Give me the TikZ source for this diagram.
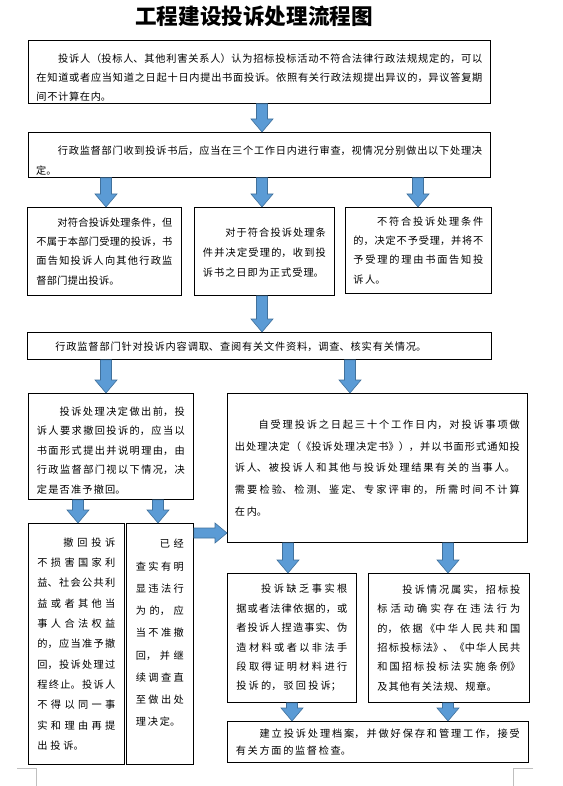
\documentclass[tikz,border=0pt]{standalone}
\usepackage{fontspec}
\setmainfont{Noto Sans CJK SC}
\usetikzlibrary{calc}
\XeTeXlinebreaklocale "zh"
\definecolor{arrfill}{HTML}{5B9BD5}
\definecolor{arrline}{HTML}{41719C}
\newcommand\cjset[2]{\fontsize{10.2pt}{#1pt}\selectfont\parindent=0pt\relax\XeTeXlinebreakskip=#2pt plus 4pt minus #2pt\relax}
\newcommand\ind[1]{\hspace*{#1pt}}
\newcommand\varrow[2]{\path[barrow] let \p1=#1, \p2=#2 in (\x1-5.5,\y1) -- (\x1+5.5,\y1) -- (\x1+5.5,\y2+13) -- (\x1+11,\y2+13) -- (\x1,\y2) -- (\x1-11,\y2+13) -- (\x1-5.5,\y2+13) -- cycle;}
\newcommand\harrow[2]{\path[barrow] let \p1=#1, \p2=#2 in (\x1,\y1+5) -- (\x2-12,\y1+5) -- (\x2-12,\y1+10) -- (\x2,\y1) -- (\x2-12,\y1-10) -- (\x2-12,\y1-5) -- (\x1,\y1-5) -- cycle;}
\begin{document}
\begin{tikzpicture}[x=1pt,y=-1pt,
  box/.style={draw=black, line width=0.8pt, anchor=north west, inner sep=0pt, align=justify},
  barrow/.style={fill=arrfill, draw=arrline, line width=0.6pt},
  cornermark/.style={draw=black!25, line width=0.6pt}]
\fill[white] (0,0) rectangle (562,786);
\useasboundingbox (0,0) rectangle (562,786);

\node[font=\fontsize{21.6pt}{26pt}\selectfont\bfseries] (title) at (254,16) {工程建设投诉处理流程图};

\node[box, minimum width=462pt, minimum height=63pt, text width=446pt, font=\cjset{19}{0.68}] (b1) at (28,40) {\ind{21.8}投诉人（投标人、其他利害关系人）认为招标投标活动不符合法律行政法规规定的，可以\linebreak 在知道或者应当知道之日起十日内提出书面投诉。依照有关行政法规提出异议的，异议答复期\linebreak 间不计算在内。\par\kern-11pt};

\node[box, minimum width=462.5pt, minimum height=45pt, text width=446pt, font=\cjset{20}{0.68}] (b2) at (27.5,132) {\ind{21.8}行政监督部门收到投诉书后，应当在三个工作日内进行审查，视情况分别做出以下处理决\linebreak 定。\par\kern-12pt};

\node[box, minimum width=154pt, minimum height=88pt, text width=136pt, font=\cjset{19.3}{0.26}] (b3a) at (27,207) {\ind{20.9}对符合投诉处理条件，但\linebreak 不属于本部门受理的投诉，书\linebreak 面告知投诉人向其他行政监\linebreak 督部门提出投诉。};

\node[box, minimum width=140pt, minimum height=88pt, text width=123pt, font=\cjset{20}{0.98}] (b3b) at (194,207) {\ind{22.4}对于符合投诉处理条\linebreak 件并决定受理的，收到投\linebreak 诉书之日即为正式受理。\par\kern-3pt};

\node[box, minimum width=146pt, minimum height=86pt, text width=130pt, font=\cjset{19.3}{1.6}] (b3c) at (345,207) {\ind{23.6}不符合投诉处理条件\linebreak 的，决定不予受理，并将不\linebreak 予受理的理由书面告知投\linebreak 诉人。};

\node[box, minimum width=464pt, minimum height=27pt, text width=446pt, font=\cjset{19}{0.83}] (b4) at (27,332) {\ind{19}行政监督部门针对投诉内容调取、查阅有关文件资料，调查、核实有关情况。\par\kern-3pt};

\node[box, minimum width=165pt, minimum height=106pt, text width=148pt, font=\cjset{19.5}{1.18}] (b5) at (28,393) {\ind{22.8}投诉处理决定做出前，投\linebreak 诉人要求撤回投诉的，应当以\linebreak 书面形式提出并说明理由，由\linebreak 行政监督部门视以下情况，决\linebreak 定是否准予撤回。\par\kern-8pt};

\node[box, minimum width=300pt, minimum height=149pt, text width=285pt, font=\cjset{21.75}{1.68}] (b6) at (227,393) {\ind{23.75}自受理投诉之日起三十个工作日内，对投诉事项做\linebreak 出处理决定（《投诉处理决定书》），并以书面形式通知投\linebreak 诉人、被投诉人和其他与投诉处理结果有关的当事人。\hfil\break 需要检验、检测、鉴定、专家评审的，所需时间不计算\linebreak 在内。};

\node[box, minimum width=96pt, minimum height=241pt, text width=78pt, font=\cjset{20.3}{2.8}] (b7a) at (28,523) {\ind{26}撤回投诉\linebreak 不损害国家利\linebreak 益、社会公共利\linebreak 益或者其他当\linebreak 事人合法权益\linebreak 的，应当准予撤\linebreak 回，投诉处理过\linebreak 程终止。投诉人\linebreak 不得以同一事\linebreak 实和理由再提\linebreak 出投诉。};

\node[box, minimum width=67pt, minimum height=241pt, text width=48pt, font=\cjset{22.25}{1.8}] (b7b) at (126,523) {\ind{24}已经\linebreak 查实有明\linebreak 显违法行\linebreak 为的，应\linebreak 当不准撤\linebreak 回，并继\linebreak 续调查直\linebreak 至做出处\linebreak 理决定。\par\kern22pt};

\node[box, minimum width=129pt, minimum height=129pt, text width=111pt, font=\cjset{19.4}{2.13}] (b8a) at (227,573) {\ind{24.7}投诉缺乏事实根\linebreak 据或者法律依据的，或\linebreak 者投诉人捏造事实、伪\linebreak 造材料或者以非法手\linebreak 段取得证明材料进行\linebreak 投诉的，驳回投诉；};

\node[box, minimum width=161pt, minimum height=129pt, text width=143pt, font=\cjset{19.4}{0.9}] (b8b) at (368,573) {\ind{25}投诉情况属实，招标投\linebreak 标活动确实存在违法行为\linebreak 的，依据《中华人民共和国\linebreak 招标投标法》、《中华人民共\linebreak 和国招标投标法实施条例》\linebreak 及其他有关法规、规章。};

\node[box, minimum width=301pt, minimum height=41pt, text width=284pt, font=\cjset{17}{1.65}] (b9) at (227,721) {\ind{23.7}建立投诉处理档案，并做好保存和管理工作，接受\linebreak 有关方面的监督检查。};

\varrow{(262,0 |- b1.south)}{(262,0 |- b2.north)}
\varrow{(106,0 |- b2.south)}{(106,0 |- b3a.north)}
\varrow{(262,0 |- b2.south)}{(262,0 |- b3b.north)}
\varrow{(418,0 |- b2.south)}{(418,0 |- b3c.north)}
\varrow{(262,0 |- b3b.south)}{(262,0 |- b4.north)}
\varrow{(106,0 |- b4.south)}{(106,0 |- b5.north)}
\varrow{(350,0 |- b4.south)}{(350,0 |- b6.north)}
\varrow{(78,0 |- b5.south)}{(78,0 |- b7a.north)}
\varrow{(158,0 |- b5.south)}{(158,0 |- b7b.north)}
\harrow{(b7b.east |- 0,533)}{(b6.west |- 0,533)}
\varrow{(288,0 |- b6.south)}{(288,0 |- b8a.north)}
\varrow{(448,0 |- b6.south)}{(448,0 |- b8b.north)}
\varrow{(292,0 |- b8a.south)}{(292,0 |- b9.north)}
\varrow{(448,0 |- b8b.south)}{(448,0 |- b9.north)}

\draw[cornermark] (17,768) -- (36,768) -- (36,786);
\draw[cornermark] (533,768) -- (513,768) -- (513,786);
\end{tikzpicture}
\end{document}
